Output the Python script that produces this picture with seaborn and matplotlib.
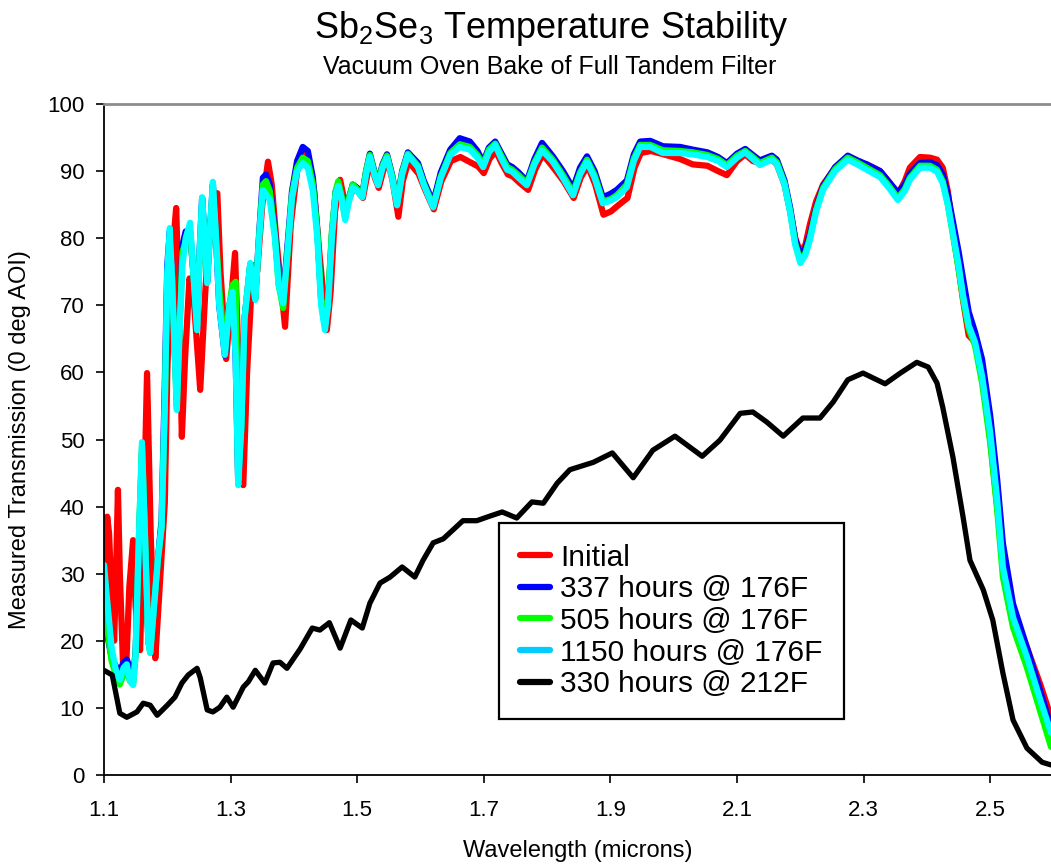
import numpy as np
import pandas as pd
import matplotlib
matplotlib.use("Agg")
import matplotlib.pyplot as plt
import seaborn as sns
from matplotlib.lines import Line2D

# ---------------- data ----------------
labels = ["Initial", "337 hours @ 176F", "505 hours @ 176F",
          "1150 hours @ 176F", "330 hours @ 212F"]

# shared wavelength grid for 337h / 505h / 1150h series (microns)
wl_a = [1.100,1.105,1.112,1.120,1.125,1.131,1.136,1.141,1.146,1.150,
        1.155,1.160,1.165,1.170,1.173,1.178,1.185,1.191,1.196,1.200,
        1.204,1.209,1.215,1.219,1.224,1.229,1.236,1.241,1.247,1.251,
        1.255,1.259,1.263,1.268,1.272,1.277,1.282,1.291,1.298,1.303,
        1.308,1.312,1.317,1.322,1.331,1.339,1.345,1.351,1.356,1.362,
        1.370,1.376,1.383,1.390,1.397,1.405,1.414,1.422,1.430,1.437,
        1.443,1.449,1.454,1.460,1.466,1.470,1.475,1.481,1.487,1.493,
        1.500,1.508,1.514,1.520,1.527,1.533,1.540,1.547,1.555,1.563,
        1.571,1.580,1.588,1.596,1.605,1.620,1.632,1.647,1.662,1.678,
        1.690,1.699,1.708,1.718,1.727,1.737,1.745,1.755,1.768,1.780,
        1.792,1.809,1.825,1.841,1.852,1.863,1.875,1.888,1.900,1.910,
        1.926,1.937,1.947,1.963,1.983,2.010,2.030,2.053,2.070,2.084,
        2.100,2.113,2.125,2.136,2.155,2.163,2.175,2.184,2.192,2.200,
        2.208,2.215,2.225,2.236,2.255,2.275,2.290,2.305,2.326,2.340,
        2.354,2.365,2.373,2.389,2.405,2.416,2.425,2.433,2.441,2.450,
        2.457,2.466,2.476,2.487,2.500,2.511,2.520,2.536,2.558,2.579,
        2.596]

t_337 = [24.0,21.0,17.5,16.0,15.5,16.8,17.2,16.0,14.5,18.5,
         34.0,48.0,34.0,20.0,18.5,24.0,32.0,38.0,58.0,76.0,
         81.0,70.0,56.0,67.0,79.0,81.0,81.0,75.0,66.5,78.0,
         86.0,80.0,73.5,82.0,88.0,80.0,70.0,62.5,70.0,72.0,
         62.0,43.5,52.0,68.0,76.0,71.0,80.5,89.0,89.5,88.0,
         81.0,74.0,71.0,79.0,87.0,91.5,93.6,93.0,89.0,81.0,
         71.0,67.0,70.5,80.5,87.0,88.0,86.5,83.5,86.0,88.0,
         87.5,86.5,90.0,92.6,90.0,88.3,91.0,92.5,89.5,85.5,
         90.0,92.8,92.0,91.2,88.6,85.3,89.8,93.2,94.9,94.4,
         93.0,91.3,93.5,94.4,92.8,91.0,90.6,89.8,88.5,91.8,
         94.2,92.2,90.0,87.4,90.5,92.2,90.0,86.1,86.6,87.2,
         88.6,92.5,94.4,94.5,93.7,93.6,93.2,92.8,92.1,91.2,
         92.6,93.3,92.4,91.6,92.3,91.7,88.6,84.5,79.8,77.3,
         78.5,80.5,84.6,87.8,90.6,92.3,91.6,91.0,90.0,88.4,
         86.8,88.0,89.6,91.2,91.3,90.9,89.5,86.5,82.5,78.0,
         74.0,69.0,66.0,62.0,53.5,44.0,34.5,25.5,19.0,12.5,
         7.2]

t_505 = [27.0,22.0,17.0,14.5,13.5,15.0,15.5,14.0,13.5,18.0,
         35.0,49.0,35.0,20.0,18.2,24.0,32.0,37.0,55.0,74.0,
         79.0,70.0,55.0,66.0,78.0,79.5,81.0,75.0,67.0,77.0,
         85.0,80.0,74.0,82.0,87.5,80.0,72.5,63.0,70.0,73.0,
         73.5,44.0,52.0,68.0,76.0,71.0,80.0,88.0,88.5,87.0,
         80.5,73.0,69.6,78.0,86.5,90.5,92.0,91.5,88.0,81.0,
         71.0,67.0,71.0,81.0,87.0,88.5,86.5,83.0,86.0,88.0,
         87.3,86.3,90.0,92.4,89.8,88.2,90.8,92.3,89.3,85.2,
         89.8,92.6,91.7,90.8,88.2,84.8,89.2,92.7,94.0,93.6,
         92.4,91.0,93.2,94.1,92.4,90.6,90.2,89.4,88.2,91.3,
         93.5,91.7,89.4,86.8,89.8,91.7,89.4,85.5,85.8,86.4,
         88.0,91.9,93.9,93.9,93.1,93.0,92.8,92.4,91.8,90.9,
         92.3,93.0,92.1,91.2,92.0,91.3,88.2,84.0,79.2,76.6,
         77.8,80.0,84.3,87.5,90.3,92.0,91.3,90.5,89.4,87.8,
         86.0,87.3,89.0,90.8,90.8,90.2,88.5,85.0,80.5,75.5,
         71.0,66.5,64.0,58.5,49.5,39.5,29.5,22.0,16.0,9.5,
         4.2]

t_1150 = [31.3,26.0,19.0,15.0,14.2,16.0,16.5,14.0,13.4,18.0,
          35.0,49.6,35.0,20.0,18.2,24.0,32.0,37.0,55.0,75.0,
          81.5,70.0,54.4,65.0,76.0,80.0,82.3,75.0,66.3,78.0,
          86.1,80.0,73.3,82.0,88.4,80.0,70.0,62.6,70.0,72.0,
          62.0,43.2,52.0,68.0,76.3,70.8,80.0,87.2,86.5,85.7,
          80.0,73.0,70.3,78.0,86.0,90.0,91.2,90.5,87.0,80.0,
          70.0,66.3,70.0,80.0,86.5,87.8,86.0,82.7,85.5,87.6,
          87.0,86.1,89.5,92.1,89.5,87.9,90.5,92.0,89.0,84.9,
          89.5,92.4,91.5,90.6,88.0,84.6,89.0,92.4,93.6,93.2,
          92.0,90.6,92.8,93.9,92.0,90.2,89.9,89.0,87.9,91.0,
          93.1,91.4,89.0,86.4,89.5,91.4,89.0,85.2,85.6,86.1,
          87.6,91.5,93.6,93.6,92.7,92.7,92.5,92.1,91.5,90.6,
          92.0,92.8,91.8,90.9,91.7,91.0,88.0,83.8,79.0,76.3,
          77.5,79.7,84.0,87.2,90.0,91.7,91.0,90.2,89.1,87.5,
          85.7,87.0,88.7,90.5,90.5,89.9,88.2,85.0,80.8,76.0,
          71.5,67.0,64.5,59.5,51.0,41.0,31.0,23.5,17.6,11.2,
          6.3]

# Initial measurement
wl_init = [1.100,1.103,1.105,1.108,1.112,1.116,1.119,1.122,1.125,1.130,
           1.135,1.140,1.146,1.150,1.157,1.162,1.168,1.174,1.181,1.186,
           1.196,1.200,1.205,1.210,1.214,1.218,1.223,1.228,1.235,1.241,
           1.252,1.260,1.267,1.279,1.284,1.293,1.300,1.307,1.313,1.320,
           1.326,1.335,1.342,1.350,1.359,1.365,1.372,1.386,1.395,1.405,
           1.418,1.425,1.432,1.440,1.452,1.458,1.465,1.473,1.482,1.494,
           1.501,1.509,1.515,1.521,1.528,1.534,1.541,1.548,1.556,1.565,
           1.572,1.581,1.589,1.597,1.606,1.621,1.633,1.648,1.663,1.679,
           1.691,1.700,1.709,1.719,1.728,1.738,1.746,1.756,1.770,1.781,
           1.793,1.810,1.826,1.842,1.853,1.864,1.876,1.889,1.901,1.911,
           1.927,1.938,1.948,1.964,1.984,2.010,2.030,2.053,2.070,2.084,
           2.100,2.113,2.125,2.136,2.155,2.163,2.175,2.184,2.192,2.200,
           2.208,2.215,2.225,2.236,2.255,2.275,2.290,2.305,2.326,2.340,
           2.354,2.365,2.373,2.389,2.405,2.416,2.425,2.433,2.441,2.450,
           2.457,2.466,2.476,2.487,2.500,2.511,2.520,2.536,2.558,2.579,
           2.596]
t_init = [22.0,30.0,38.5,36.0,26.5,20.0,30.0,42.5,30.0,16.7,
          16.0,28.0,35.0,25.0,18.6,35.0,59.9,35.0,17.4,25.0,
          40.5,60.0,75.0,80.0,84.5,72.0,50.4,62.0,74.0,72.0,
          57.4,72.0,82.0,86.7,75.0,62.0,70.0,77.8,60.0,43.2,
          60.0,76.0,75.0,85.0,91.4,88.0,80.0,66.8,82.0,90.0,
          92.5,91.0,87.0,78.0,66.3,72.0,84.0,88.7,84.5,87.5,
          87.0,86.0,89.0,91.5,89.0,87.5,90.0,91.7,88.5,83.2,
          88.5,91.5,90.5,89.6,87.5,84.3,88.5,91.5,92.1,91.3,
          90.7,89.7,91.8,93.0,91.2,89.5,89.2,88.3,87.2,90.2,
          92.5,90.5,88.5,86.0,89.0,90.8,88.0,83.5,84.0,84.8,
          86.0,90.5,92.7,93.0,92.5,91.8,91.0,90.8,90.0,89.4,
          91.5,92.5,91.5,91.2,91.7,91.0,88.0,84.0,80.0,77.9,
          79.0,82.0,85.5,88.0,90.5,92.0,91.3,91.0,90.0,88.4,
          86.5,88.5,90.5,92.1,92.0,91.7,90.5,87.0,81.0,75.5,
          70.8,65.5,64.5,60.0,50.0,40.0,32.0,24.0,19.0,13.5,
          8.6]

# 330 hours @ 212F
wl_212 = [1.100,1.113,1.125,1.136,1.152,1.162,1.173,1.184,1.200,1.212,
          1.223,1.233,1.247,1.252,1.263,1.272,1.283,1.294,1.304,1.320,
          1.328,1.339,1.354,1.367,1.378,1.389,1.410,1.429,1.441,1.456,
          1.473,1.490,1.508,1.520,1.536,1.552,1.571,1.591,1.604,1.620,
          1.636,1.651,1.667,1.689,1.707,1.729,1.752,1.776,1.794,1.816,
          1.836,1.873,1.903,1.936,1.967,2.002,2.045,2.073,2.105,2.125,
          2.147,2.173,2.204,2.231,2.252,2.275,2.299,2.334,2.358,2.384,
          2.402,2.416,2.425,2.441,2.457,2.468,2.489,2.504,2.520,2.536,
          2.558,2.582,2.596]
t_212 = [15.6,14.9,9.2,8.6,9.4,10.7,10.4,8.9,10.4,11.6,
         13.7,14.9,15.9,14.5,9.7,9.4,10.1,11.6,10.1,13.1,
         13.9,15.6,13.7,16.7,16.8,15.9,18.8,21.9,21.6,22.7,
         18.9,23.1,21.9,25.6,28.6,29.5,31.0,29.5,32.0,34.6,
         35.2,36.5,37.9,37.9,38.5,39.2,38.3,40.7,40.5,43.5,
         45.5,46.6,48.0,44.3,48.4,50.5,47.5,49.9,53.9,54.1,
         52.6,50.5,53.2,53.2,55.6,58.9,59.9,58.3,59.9,61.5,
         60.8,58.4,54.8,47.4,38.5,32.0,27.6,23.1,15.2,8.2,
         4.0,1.9,1.5]

x_ticks = [1.1, 1.3, 1.5, 1.7, 1.9, 2.1, 2.3, 2.5]
y_ticks = list(range(0, 101, 10))

# ---------------- style ----------------
sns.set_style("white")
plt.rcParams["font.family"] = ["Liberation Sans", "DejaVu Sans"]
plt.rcParams["mathtext.fontset"] = "custom"
plt.rcParams["mathtext.rm"] = "Liberation Sans"
plt.rcParams["mathtext.default"] = "regular"
for k in ["text.color", "axes.labelcolor", "xtick.color", "ytick.color"]:
    plt.rcParams[k] = "black"

W, H = 1051, 865
fig = plt.figure(figsize=(W / 100, H / 100), dpi=100)
ax = fig.add_axes([104 / W, 90 / H, 947 / W, 671 / H])

series = [
    (wl_init, t_init, "#FF0000", 4.5),
    (wl_a, t_337, "#0000FF", 4.5),
    (wl_a, t_505, "#00FF00", 4.5),
    (wl_a, t_1150, "#00FFFF", 4.5),
    (wl_212, t_212, "#000000", 3.8),
]
for (x, y, c, lw), lab in zip(series, labels):
    sns.lineplot(x=x, y=y, ax=ax, color=c, linewidth=lw, estimator=None,
                 sort=False, label=lab, legend=False)
for ln in ax.lines:
    ln.set_solid_joinstyle("round")
    ln.set_solid_capstyle("round")

ax.set_xlim(1.1, 2.596)
ax.set_ylim(0, 100)
ax.set_xticks(x_ticks)
ax.set_xticklabels([f"{v:.1f}" for v in x_ticks])
ax.set_yticks(y_ticks)
ax.tick_params(axis="both", direction="out", length=6, width=1.2,
               color="black", labelcolor="black", labelsize=16,
               bottom=True, left=True)
ax.tick_params(axis="x", pad=12)
ax.tick_params(axis="y", pad=8)

for s in ["left", "bottom"]:
    ax.spines[s].set_color("black")
    ax.spines[s].set_linewidth(1.3)
ax.spines["top"].set_color("#8c8c8c")
ax.spines["top"].set_linewidth(2)
ax.spines["right"].set_visible(False)

ax.set_xlabel("Wavelength (microns)", fontsize=17, labelpad=14, color="black")
ax.set_ylabel("Measured Transmission (0 deg AOI)", fontsize=17, labelpad=12,
              color="black")

fig.text(0.524, 1 - 28 / H, "Sb$_2$Se$_3$ Temperature Stability",
         ha="center", va="center", fontsize=26, color="black")
fig.text(0.523, 1 - 67 / H, "Vacuum Oven Bake of Full Tandem Filter",
         ha="center", va="center", fontsize=18, color="black")

handle_colors = ["#FF0000", "#0000FF", "#00FF00", "#00CCFF", "#000000"]
handles = [Line2D([0], [0], color=c, linewidth=4.5) for c in handle_colors]
leg = ax.legend(handles, labels, loc="lower left",
                bbox_to_anchor=(395 / 947, 56 / 671), bbox_transform=ax.transAxes,
                borderaxespad=0, fontsize=21.5, frameon=True, fancybox=False,
                edgecolor="black", framealpha=1, handlelength=1.0,
                handletextpad=0.35, labelspacing=0.12, borderpad=0.7)
leg.get_frame().set_linewidth(1.6)
for t in leg.get_texts():
    t.set_color("black")

fig.savefig("out.png", dpi=100)
